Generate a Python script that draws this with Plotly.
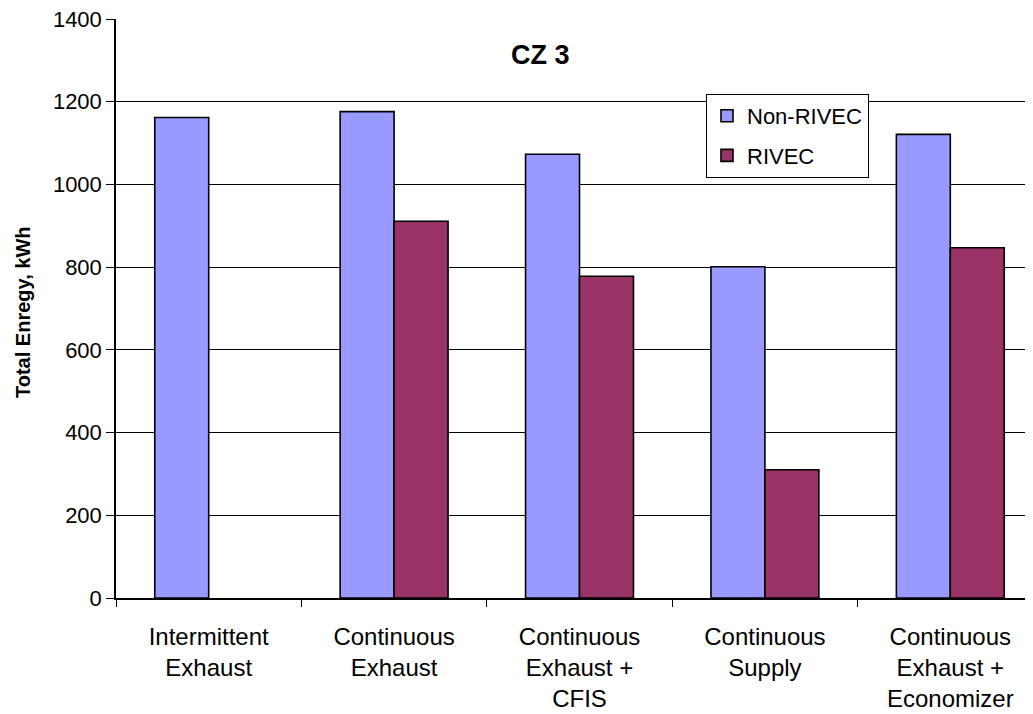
import plotly.graph_objects as go

categories = ["Intermittent<br>Exhaust", "Continuous<br>Exhaust", "Continuous<br>Exhaust +<br>CFIS",
              "Continuous<br>Supply", "Continuous<br>Exhaust +<br>Economizer"]
non_rivec = [1162, 1176, 1073, 801, 1121]
rivec = [None, 911, 778, 310, 847]
y_ticks = [0, 200, 400, 600, 800, 1000, 1200, 1400]

FONT = "Liberation Sans, Arial, sans-serif"
OFF = 8  # page body margin
W, H = 1033 - OFF, 714 - OFF
ML, MR, MT = 116 - OFF, 0, 19 - OFF
BASE = 598 - OFF
MB = H - BASE
pw, ph = W - ML - MR, H - MT - MB

def px2x(px):
    return (px - OFF - ML) / pw

def px2y(py):
    return 1 - (py - OFF - MT) / ph

fig = go.Figure()
fig.add_trace(go.Bar(x=categories, y=non_rivec, name="Non-RIVEC", legendgroup="a",
                     marker=dict(color="#9999FF", line=dict(color="black", width=1.6))))
fig.add_trace(go.Bar(x=categories, y=rivec, name="RIVEC", legendgroup="b",
                     marker=dict(color="#993366", line=dict(color="black", width=1.6))))

fig.update_layout(
    width=W, height=H,
    margin=dict(l=ML, r=MR, t=MT, b=MB, autoexpand=False),
    paper_bgcolor="white", plot_bgcolor="white",
    barmode="group", bargap=0.418, bargroupgap=0,
    font=dict(family=FONT, color="black", size=22),
    showlegend=True,
    legend=dict(x=px2x(706), y=px2y(94), xanchor="left", yanchor="top",
                bordercolor="black", borderwidth=1, bgcolor="white",
                font=dict(family=FONT, size=22, color="black"),
                traceorder="grouped", tracegroupgap=8,
                itemclick=False),
    xaxis=dict(type="category", range=[-0.5, 4.446], tickson="boundaries",
               ticks="outside", ticklen=7, tickcolor="black", tickwidth=1,
               showline=True, linecolor="black", linewidth=1.5,
               showgrid=False, tickfont=dict(size=24, family=FONT),
               ticklabelstandoff=16, fixedrange=True),
    yaxis=dict(range=[0, 1400], tickvals=y_ticks, ticks="outside", ticklen=8,
               tickcolor="black", showline=True, linecolor="black", linewidth=1.5,
               showgrid=True, gridcolor="black", gridwidth=1,
               ticklabeloverflow="allow",
               tickfont=dict(size=22, family=FONT), zeroline=False, fixedrange=True),
    annotations=[
        dict(text="<b>CZ 3</b>", x=px2x(540), y=px2y(55), xref="paper", yref="paper",
             showarrow=False, xanchor="center", yanchor="middle",
             font=dict(size=27, family=FONT, color="black")),
        dict(text="<b>Total Enregy, kWh</b>", x=px2x(23), y=px2y(312), xref="paper", yref="paper",
             showarrow=False, xanchor="center", yanchor="middle", textangle=-90,
             font=dict(size=20, family=FONT, color="black")),
    ],
)

fig.write_html("out.html")
